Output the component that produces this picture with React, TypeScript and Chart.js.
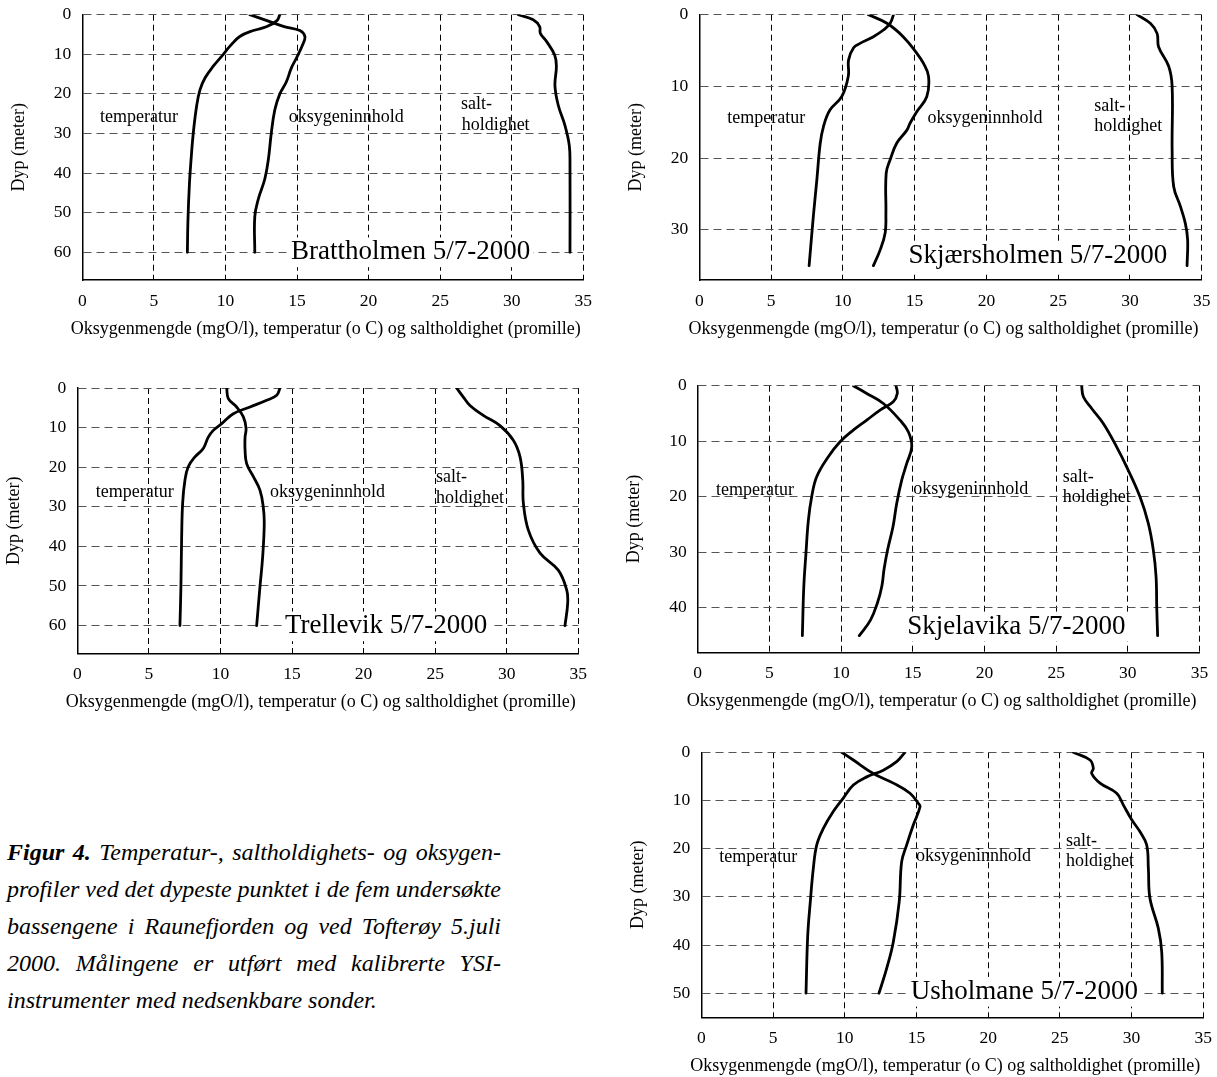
import React, { useEffect, useRef } from 'react';
import { Chart, registerables } from 'chart.js';

Chart.register(...registerables);

const SERIF = "'Liberation Serif', 'Times New Roman', Times, serif";

// ---- tick labels & texts ----
const xTicks = [0, 5, 10, 15, 20, 25, 30, 35];
const depthTicks = [0, 10, 20, 30, 40, 50, 60];
const xAxisTitle = 'Oksygenmengde (mgO/l), temperatur (o C) og saltholdighet (promille)';
const yAxisTitle = 'Dyp (meter)';
const seriesNames = ['temperatur', 'oksygeninnhold', 'salt-', 'holdighet'];
const stations = [
  'Brattholmen 5/7-2000',
  'Skjærsholmen 5/7-2000',
  'Trellevik 5/7-2000',
  'Skjelavika 5/7-2000',
  'Usholmane 5/7-2000',
];
const depthMax = [67, 37, 67, 48, 55];

// ---- profiles: [depth (m), value] ----
const brattTemp = [[0, 13.8], [1.5, 13.6], [3, 12.9], [4, 11.95], [5.5, 11.0], [8, 10.3], [10, 9.85], [13, 9.15], [16, 8.57], [19, 8.22], [23, 7.99], [30, 7.75], [37, 7.59], [43, 7.48], [52, 7.38], [60, 7.34]];
const brattOxy = [[0, 11.7], [1.5, 12.9], [3, 14.1], [4, 15.2], [5.5, 15.55], [7.5, 15.4], [11, 14.95], [13.5, 14.6], [17, 14.25], [20, 13.8], [24, 13.45], [30, 13.2], [36.5, 13.0], [41.5, 12.75], [46.5, 12.3], [51, 12.05], [60, 12.05]];
const brattSalt = [[0, 30.46], [1.3, 31.5], [3, 31.95], [4.7, 32.0], [6.8, 32.44], [10.2, 33.0], [13, 33.12], [18, 33.02], [23, 33.26], [28, 33.72], [33, 34.02], [38, 34.07], [60, 34.07]];

const skjaTemp = [[0, 13.53], [1.2, 13.3], [2.1, 12.85], [3.1, 12.1], [4, 11.2], [4.6, 10.75], [6.3, 10.4], [8.6, 10.38], [11.4, 9.93], [13.3, 9.1], [15.6, 8.65], [18, 8.42], [23, 8.19], [28, 7.95], [35, 7.65]];
const skjaOxy = [[0, 11.78], [1.2, 13.07], [3.1, 14.22], [5.4, 15.16], [6.8, 15.62], [8.6, 15.97], [11.4, 15.85], [13.5, 15.16], [15.1, 14.69], [16.1, 14.46], [17.9, 13.76], [20.2, 13.3], [22.1, 13.02], [27.7, 13.0], [30.4, 12.95], [32.8, 12.6], [35, 12.13]];
const skjaSalt = [[0, 30.5], [1.2, 31.42], [2.6, 31.89], [4.5, 32.0], [7.2, 32.7], [10, 32.94], [18.8, 32.94], [24, 33.05], [26.7, 33.51], [29.1, 33.86], [31.4, 34.02], [35, 33.98]];

const trelTemp = [[0, 14.16], [1.85, 13.93], [3.1, 13.23], [4.8, 12.07], [6.5, 10.9], [9, 10.09], [10.7, 9.5], [12.4, 9.15], [15.3, 8.8], [17.4, 8.22], [19.9, 7.75], [23.3, 7.52], [29, 7.36], [37.6, 7.29], [50, 7.24], [60, 7.17]];
const trelOxy = [[0, 10.44], [2.7, 10.55], [4.8, 11.13], [7.3, 11.6], [10.2, 11.79], [12.4, 11.72], [15.7, 11.72], [19.1, 11.83], [22.4, 12.3], [25.8, 12.76], [30, 12.99], [34.2, 13.06], [42.6, 12.95], [50.2, 12.76], [60, 12.53]];
const trelSalt = [[0, 26.5], [2.3, 26.97], [4.4, 27.43], [6.9, 28.36], [9.5, 29.53], [13.2, 30.46], [17.4, 30.93], [23.3, 31.12], [29, 31.16], [35.9, 31.51], [41.7, 32.33], [46, 33.6], [51, 34.19], [54.3, 34.26], [60, 34.07]];

const skjeTemp = [[0, 13.83], [1.4, 13.92], [2.9, 13.64], [4.4, 12.72], [6.2, 11.79], [8, 10.85], [10.1, 9.93], [12.8, 9.11], [16.4, 8.3], [20, 7.95], [24.2, 7.72], [30.2, 7.55], [36.2, 7.4], [45, 7.3]];
const skjeOxy = [[0, 10.85], [1.4, 11.79], [3.2, 12.95], [6.2, 14.11], [8.3, 14.69], [11, 14.93], [14, 14.58], [17, 14.23], [21.2, 13.88], [25.4, 13.62], [29.5, 13.25], [33, 13.0], [36, 12.85], [39, 12.55], [42.2, 12.05], [45, 11.27]];
const skjeSalt = [[0, 26.78], [2, 26.9], [4.1, 27.48], [6.8, 28.29], [11, 29.22], [14.6, 29.92], [20, 30.85], [24.8, 31.43], [29.6, 31.78], [34.4, 31.97], [40.1, 32.02], [45, 32.08]];

const ushoTemp = [[0, 14.2], [1.95, 13.62], [3.7, 12.69], [5.1, 11.53], [6.8, 10.6], [9.5, 9.9], [12.3, 9.2], [15.8, 8.51], [19.2, 8.05], [24.1, 7.81], [31, 7.6], [38, 7.42], [50, 7.3]];
const ushoOxy = [[0, 9.79], [1.6, 10.6], [4.4, 11.99], [6.4, 13.39], [8.5, 14.55], [10.6, 15.13], [11.3, 15.25], [15.1, 14.78], [19.2, 14.32], [22.7, 13.97], [31, 13.8], [39.3, 13.39], [44.8, 12.93], [50, 12.39]];
const ushoSalt = [[0, 25.94], [1.6, 27.1], [3.3, 27.33], [4.4, 27.22], [6.4, 27.8], [8.5, 28.96], [10.9, 29.42], [14, 30.01], [16.5, 30.59], [19.2, 31.05], [24.1, 31.17], [30.3, 31.28], [36.5, 31.86], [41.4, 32.1], [50, 32.14]];

const profiles = [
  [brattTemp, brattOxy, brattSalt],
  [skjaTemp, skjaOxy, skjaSalt],
  [trelTemp, trelOxy, trelSalt],
  [skjeTemp, skjeOxy, skjeSalt],
  [ushoTemp, ushoOxy, ushoSalt],
];

const captionBold = ['Figur', '4.'];
const captionLines = [
  'Temperatur-, saltholdighets- og oksygen-',
  'profiler ved det dypeste punktet i de fem undersøkte',
  'bassengene i Raunefjorden og ved Tofterøy 5.juli',
  '2000. Målingene er utført med kalibrerte YSI-',
  'instrumenter med nedsenkbare sonder.',
];

// ---- layout (pixels) and label anchors (in axis units: [x, depth]) ----
const layouts = [
  { plot: [82.3, 14.7, 583.3, 280], canvasLeft: 0, labelAt: [[1.24, 26], [14.43, 26], [26.45, 22.5], [26.5, 27.8], [14.58, 60]] },
  { plot: [699.3, 14.7, 1201.7, 280], canvasLeft: 618, labelAt: [[1.95, 14.4], [15.9, 14.4], [27.52, 12.8], [27.52, 15.6], [14.57, 33.7]] },
  { plot: [77.3, 388, 578.3, 653.3], canvasLeft: 0, labelAt: [[1.29, 26.4], [13.46, 26.4], [25.06, 22.6], [25.06, 27.9], [14.51, 60.2]] },
  { plot: [697.7, 385.7, 1199.5, 652.3], canvasLeft: 618, labelAt: [[1.28, 18.8], [15.04, 18.6], [25.46, 16.4], [25.46, 20.0], [14.62, 43.4]] },
  { plot: [701.3, 752.3, 1203.3, 1017.3], canvasLeft: 618, labelAt: [[1.26, 21.7], [14.97, 21.5], [25.43, 18.4], [25.43, 22.7], [14.6, 49.7]] },
];

const TICK_SIZE = 17.5;
const TITLE_SIZE = 18;
const LABEL_SIZE = 18;
const STATION_SIZE = 27;

function ProfileChart({ index }: { index: number }) {
  const ref = useRef<HTMLCanvasElement | null>(null);
  const lay = layouts[index];
  const [pl, pt, pr, pb] = lay.plot;
  const cLeft = lay.canvasLeft;
  const cTop = Math.floor(pt) - 28;
  const cRight = Math.ceil(pr) + 32;
  const cBottom = Math.ceil(pb) + 63;
  const W = cRight - cLeft;
  const H = cBottom - cTop;

  useEffect(() => {
    const canvas = ref.current;
    if (!canvas) return;
    const yMax = depthMax[index];
    const titleLH = TITLE_SIZE * 1.2;
    const yTitlePad = pl - 63 - cLeft - titleLH / 2;
    const texts = [...seriesNames, stations[index]];

    const labelPlugin = {
      id: 'profileLabels',
      beforeDatasetsDraw(chart: any) {
        const ctx = chart.ctx;
        const xs = chart.scales.x;
        const ys = chart.scales.y;
        ctx.save();
        texts.forEach((txt, i) => {
          const big = i === 4;
          const size = big ? STATION_SIZE : LABEL_SIZE;
          const [ax, ay] = lay.labelAt[i];
          const px = xs.getPixelForValue(ax);
          const py = ys.getPixelForValue(ay);
          ctx.font = `${size}px ${SERIF}`;
          if (big) {
            const w = ctx.measureText(txt).width;
            ctx.fillStyle = '#fff';
            ctx.fillRect(px - 3, py - size * 0.55, w + 6, size * 1.1);
          }
          ctx.fillStyle = '#000';
          ctx.textAlign = 'left';
          ctx.textBaseline = 'middle';
          ctx.fillText(txt, px, py);
        });
        ctx.restore();
      },
      afterDraw(chart: any) {
        // x-axis title, sitting slightly left of the plot centre as in the source figure
        const ctx = chart.ctx;
        const area = chart.chartArea;
        ctx.save();
        ctx.font = `${TITLE_SIZE}px ${SERIF}`;
        ctx.fillStyle = '#000';
        ctx.textAlign = 'center';
        ctx.textBaseline = 'middle';
        ctx.fillText(xAxisTitle, (area.left + area.right) / 2 - 7, area.bottom + 49);
        ctx.restore();
      },
    };

    const chart = new Chart(canvas, {
      type: 'scatter',
      data: {
        datasets: profiles[index].map((s) => ({
          data: s.map(([d, v]) => ({ x: v, y: d })),
          showLine: true,
          borderColor: '#000',
          backgroundColor: '#000',
          borderWidth: 2.8,
          pointRadius: 0,
          pointHoverRadius: 0,
          tension: 0.4,
          fill: false,
          borderCapStyle: 'round',
          borderJoinStyle: 'round',
        })),
      },
      options: {
        responsive: false,
        animation: false,
        devicePixelRatio: 1,
        events: [],
        layout: { padding: { left: 0, top: pt - cTop, right: cRight - pr, bottom: 0 } },
        plugins: { legend: { display: false }, tooltip: { enabled: false } },
        scales: {
          x: {
            type: 'linear',
            position: 'bottom',
            min: 0,
            max: 35,
            afterBuildTicks: (s: any) => {
              s.ticks = xTicks.map((v) => ({ value: v }));
            },
            afterFit: (s: any) => {
              s.height = cBottom - pb;
            },
            ticks: { color: '#000', font: { family: SERIF, size: TICK_SIZE }, padding: 11, maxRotation: 0, autoSkip: false },
            grid: { color: '#000', lineWidth: 1, drawTicks: false },
            border: { display: true, color: '#000', width: 1.5, dash: [6, 4] },
            title: { display: false },
          },
          y: {
            type: 'linear',
            position: 'left',
            reverse: true,
            min: 0,
            max: yMax,
            afterBuildTicks: (s: any) => {
              s.ticks = depthTicks.filter((v) => v <= yMax).map((v) => ({ value: v }));
            },
            afterFit: (s: any) => {
              s.width = pl - cLeft;
            },
            ticks: { color: '#000', font: { family: SERIF, size: TICK_SIZE }, padding: 11, autoSkip: false },
            grid: { color: '#555', lineWidth: 1, drawTicks: false },
            border: { display: true, color: '#000', width: 1.5, dash: [8, 5] },
            title: { display: true, text: yAxisTitle, color: '#000', font: { family: SERIF, size: TITLE_SIZE }, padding: { top: yTitlePad, bottom: 0 } },
          },
        },
      } as any,
      plugins: [labelPlugin],
    });
    return () => chart.destroy();
  }, [index]);

  return (
    <canvas
      ref={ref}
      width={W}
      height={H}
      style={{ position: 'absolute', left: cLeft, top: cTop, width: W, height: H }}
    />
  );
}

function Caption() {
  const last = captionLines.length - 1;
  return (
    <div
      style={{
        position: 'absolute',
        left: 7,
        top: 834,
        width: 494,
        fontFamily: SERIF,
        fontStyle: 'italic',
        fontSize: 24,
        lineHeight: '37px',
        color: '#000',
      }}
    >
      {captionLines.map((line, i) => {
        const words = line.split(' ');
        if (i === last) {
          return <div key={i} style={{ whiteSpace: 'nowrap' }}>{line}</div>;
        }
        return (
          <div key={i} style={{ display: 'flex', justifyContent: 'space-between', whiteSpace: 'nowrap' }}>
            {i === 0 && captionBold.map((w, j) => <span key={'b' + j} style={{ fontWeight: 'bold' }}>{w}</span>)}
            {words.map((w, j) => <span key={j}>{w}</span>)}
          </div>
        );
      })}
    </div>
  );
}

export default function App() {
  return (
    <div style={{ position: 'absolute', left: 0, top: 0, width: 1217, height: 1077, background: '#fff', overflow: 'hidden' }}>
      {layouts.map((_, i) => (
        <ProfileChart key={i} index={i} />
      ))}
      <Caption />
    </div>
  );
}
